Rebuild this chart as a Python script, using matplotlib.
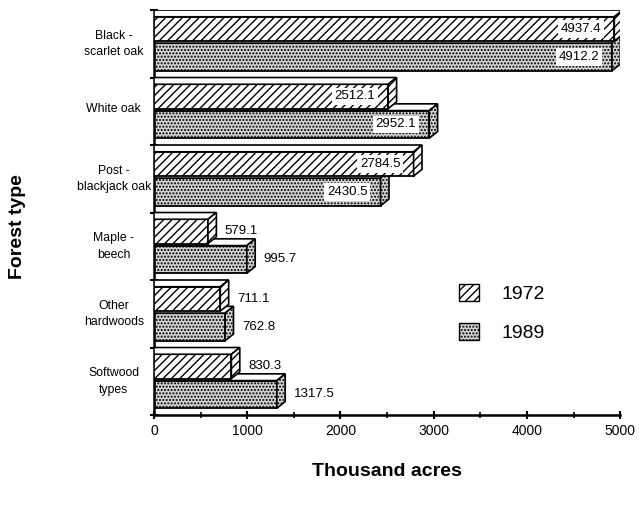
import matplotlib
matplotlib.use("Agg")
import matplotlib.pyplot as plt
from matplotlib.patches import Polygon, Patch, Rectangle

plt.rcParams['font.family'] = ['Liberation Sans', 'DejaVu Sans']
plt.rcParams['hatch.linewidth'] = 1.0

categories = ["Black -\nscarlet oak", "White oak", "Post -\nblackjack oak",
              "Maple -\nbeech", "Other\nhardwoods", "Softwood\ntypes"]
series_names = ["1972", "1989"]
values_1972 = [4937.4, 2512.1, 2784.5, 579.1, 711.1, 830.3]
values_1989 = [4912.2, 2952.1, 2430.5, 995.7, 762.8, 1317.5]
xticks = [0, 1000, 2000, 3000, 4000, 5000]

fig = plt.figure(figsize=(6.4, 5.14), dpi=100)
ax = fig.add_axes([0.2406, 0.1926, 0.7284, 0.7879])
ax.set_xlim(0, 5000)
ax.set_ylim(6, 0)

DX, DY = 90, 0.1
INSIDE_MIN = 2000
DOT_FACE = '#d4d4d4'

styles = {
    "1972": dict(hatch='////', face='white', span=(0.10, 0.46)),
    "1989": dict(hatch='.....', face=DOT_FACE, span=(0.49, 0.90)),
}

def bar3d(y0, y1, v, st, z):
    ax.add_patch(Rectangle((0, y0), v, y1 - y0, facecolor=st['face'],
                           edgecolor='black', hatch=st['hatch'], lw=1.3, zorder=z))
    ax.add_patch(Polygon([(0, y0), (v, y0), (v + DX, y0 - DY), (0, y0 - DY)],
                         closed=True, facecolor='white', edgecolor='black', lw=1.2, zorder=z))
    ax.add_patch(Polygon([(v, y0), (v + DX, y0 - DY), (v + DX, y1 - DY), (v, y1)],
                         closed=True, facecolor=st['face'], edgecolor='black',
                         hatch=st['hatch'], lw=1.2, zorder=z))

for name, vals, zbase in [("1989", values_1989, 2), ("1972", values_1972, 4)]:
    st = styles[name]
    for i, v in enumerate(vals):
        y0 = i + st['span'][0]
        y1 = i + st['span'][1]
        bar3d(y0, y1, v, st, zbase)
        yc = (y0 + y1) / 2
        if v >= INSIDE_MIN:
            ax.text(v - 140, yc, f"{v:.1f}", ha='right', va='center', fontsize=9.5,
                    zorder=zbase + 1,
                    bbox=dict(boxstyle='square,pad=0.2', facecolor='white', edgecolor='none'))
        else:
            ax.text(v + DX + 90, yc, f"{v:.1f}", ha='left', va='center', fontsize=9.5,
                    zorder=zbase + 1)

for s in ['top', 'right']:
    ax.spines[s].set_visible(False)
ax.spines['left'].set_linewidth(1.8)
ax.spines['bottom'].set_linewidth(1.8)

ax.set_yticks(range(7))
ax.set_yticklabels([])
ax.set_yticks([i + 0.45 for i in range(6)], minor=True)
ax.set_yticklabels(categories, minor=True, fontsize=8.8, ha='center', linespacing=1.5)
ax.tick_params(axis='y', which='minor', length=0, pad=29)
ax.tick_params(axis='y', which='major', direction='inout', length=6, width=1.5)

ax.set_xticks(xticks)
ax.set_xticklabels([str(t) for t in xticks], fontsize=10)
ax.set_xticks([500, 1500, 2500, 3500, 4500], minor=True)
ax.tick_params(axis='x', which='major', direction='inout', length=6, width=1.5)
ax.tick_params(axis='x', which='minor', direction='inout', length=4, width=1.2)

ax.set_xlabel("Thousand acres", fontsize=14, fontweight='bold', labelpad=18)
fig.text(0.028, 0.56, "Forest type", rotation=90, fontsize=14, fontweight='bold',
         ha='center', va='center')

handles = [Patch(facecolor='white', edgecolor='black', hatch='////', label='1972'),
           Patch(facecolor=DOT_FACE, edgecolor='black', hatch='.....', label='1989')]
fig.legend(handles=handles, loc='upper left', bbox_to_anchor=(0.69, 0.482),
           frameon=False, fontsize=14, handlelength=1.0, handleheight=1.0,
           handletextpad=1.2, labelspacing=1.0)

fig.savefig("out.png", dpi=100, facecolor='white')
